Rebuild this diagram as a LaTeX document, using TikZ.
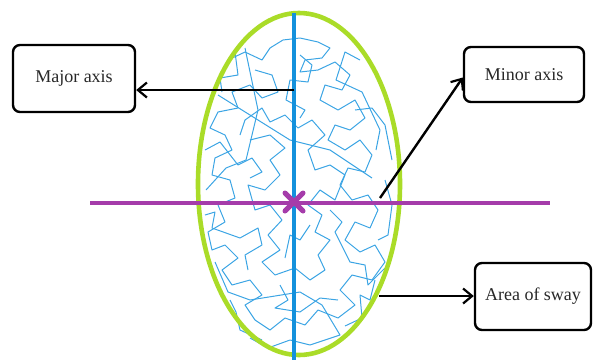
\documentclass[tikz,border=0pt]{standalone}
\usepackage{fontspec}
\setmainfont{Liberation Serif}
\usetikzlibrary{arrows.meta}
\definecolor{walk}{RGB}{60,165,228}
\definecolor{axisblue}{RGB}{20,145,220}
\definecolor{ellgreen}{RGB}{170,220,40}
\definecolor{purp}{RGB}{165,60,170}
\definecolor{txt}{RGB}{40,40,40}
\tikzset{
  labelbox/.style={draw=black, line width=2.4pt, rounded corners=7pt, fill=white,
    font=\fontsize{18}{20}\selectfont, text=txt, inner sep=0pt},
  pointer/.style={draw=black, line width=2.4pt, -{Straight Barb[length=9pt,width=15pt,line width=2.2pt]}},
  walkline/.style={draw=walk, line width=1pt, line join=round}
}
\begin{document}
\begin{tikzpicture}[x=1pt,y=-1pt]
\useasboundingbox (0,0) rectangle (597,360);
% random walk
\draw[walkline] (228,60) -- (245,52) -- (262,60) -- (270,48) -- (283,40) -- (300,38) -- (318,42) -- (330,48) -- (322,58) -- (305,60) -- (300,72) -- (318,70) -- (335,62) -- (350,75) -- (342,90) -- (325,85) -- (320,100) -- (338,110) -- (355,100) -- (365,118) -- (350,130) -- (335,125) -- (328,140) -- (345,150) -- (360,140) -- (372,155) -- (365,172) -- (348,168) -- (340,185) -- (352,200) -- (368,195) -- (378,210) -- (370,228) -- (355,222) -- (345,240) -- (360,252) -- (375,245) -- (385,262) -- (372,280) -- (352,275) -- (340,290) -- (355,305) -- (338,318) -- (318,310) -- (305,325) -- (285,318) -- (270,330) -- (255,320) -- (245,305) -- (262,295) -- (250,280) -- (232,285) -- (222,270) -- (238,258) -- (225,245) -- (212,250) -- (208,232) -- (225,222) -- (218,205) -- (235,198) -- (230,180) -- (212,175) -- (215,158) -- (232,150) -- (225,135) -- (210,128) -- (218,112) -- (238,108) -- (232,92) -- (250,85) -- (262,98) -- (278,92) -- (272,75) -- (255,70);
\draw[walkline] (250,140) -- (270,135) -- (285,148) -- (270,160) -- (280,175) -- (265,190) -- (248,185) -- (255,210) -- (270,205) -- (282,220) -- (268,235) -- (280,250) -- (262,262) -- (275,275) -- (295,268) -- (310,280) -- (325,270) -- (318,255) -- (330,240) -- (315,232) -- (322,215) -- (308,205) -- (320,190) -- (335,200) -- (345,175) -- (330,165) -- (315,170) -- (308,150) -- (325,135) -- (312,120) -- (298,128) -- (285,115) -- (270,122) -- (262,108) -- (245,120) -- (240,135);
\draw[walkline] (218,95) -- (290,140) -- (330,150) -- (372,178);
\draw[walkline] (215,262) -- (228,292) -- (250,300) -- (300,292) -- (322,305) -- (340,335) -- (310,345) -- (290,340) -- (268,348) -- (250,338);
\draw[walkline] (245,48) -- (258,110) -- (246,160) -- (226,168) -- (206,190);
\draw[walkline] (360,60) -- (345,52) -- (336,80) -- (362,92) -- (380,130) -- (376,150);
\draw[walkline] (230,300) -- (236,312) -- (240,330) -- (262,340);
\draw[walkline] (375,280) -- (370,300) -- (360,295) -- (362,318) -- (345,326);
\draw[walkline] (300,55) -- (312,65) -- (308,82) -- (290,80) -- (286,100) -- (305,110) -- (300,118);
\draw[walkline] (205,150) -- (220,142) -- (238,165) -- (252,158) -- (262,172) -- (250,178);
\draw[walkline] (205,215) -- (215,212) -- (212,228) -- (240,238) -- (258,228) -- (262,245) -- (245,255) -- (248,270);
\draw[walkline] (330,210) -- (342,222) -- (335,232) -- (350,262) -- (365,265) -- (368,285) -- (385,268);
\draw[walkline] (280,285) -- (288,300) -- (275,308) -- (300,312) -- (320,298) -- (338,300);
\draw[walkline] (385,180) -- (392,205) -- (388,235) -- (378,240);
\draw[walkline] (235,52) -- (238,75) -- (220,78) -- (222,92);
\draw[walkline] (310,225) -- (300,240) -- (290,235) -- (285,258);
\draw[walkline] (355,110) -- (372,108) -- (385,125) -- (392,160);
% ellipse and axes
\draw[ellgreen, line width=4.6pt] (299,184) ellipse [x radius=101pt, y radius=171pt];
\draw[purp, line width=4.2pt] (90,203) -- (550,203);
\draw[axisblue, line width=4.2pt] (294,13) -- (294,360);
\draw[purp, line width=5pt, line cap=round] (285,193) -- (303,211) (303,193) -- (285,211);
% label boxes
\node[labelbox, minimum width=122pt, minimum height=67pt] (major) at (74,78.5) {Major axis};
\node[labelbox, minimum width=120pt, minimum height=55pt] (minor) at (524,74.5) {Minor axis};
\node[labelbox, minimum width=116pt, minimum height=67pt] (area) at (533,296.5) {Area of sway};
% connectors
\coordinate (pmaj) at (294,90);
\coordinate (pmin) at (380,198);
\coordinate (parea) at (379,296);
\draw[pointer] (pmaj) -- (major.east |- pmaj);
\draw[pointer] (pmin) -- ([yshift=-3pt]minor.west);
\draw[pointer] (parea) -- (area.west |- parea);
\end{tikzpicture}
\end{document}
